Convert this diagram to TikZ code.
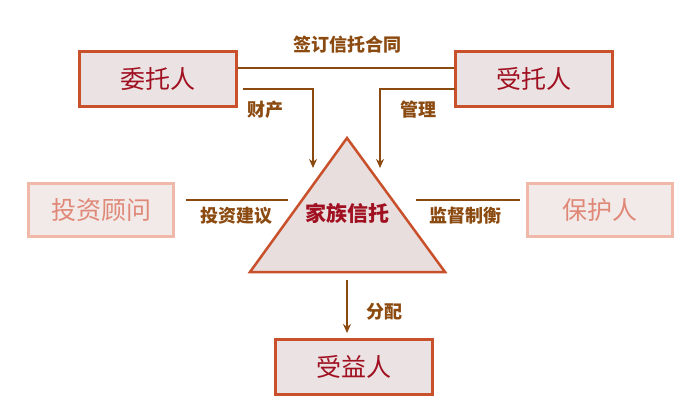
\documentclass[tikz,border=0pt]{standalone}
\usepackage{fontspec}
\usetikzlibrary{arrows.meta}
\setmainfont{Noto Sans CJK SC}
\begin{document}
\begin{tikzpicture}[x=1pt,y=-1pt,
  box/.style={draw=bord,fill=boxf,line width=2.5pt,minimum width=157pt,minimum height=55pt,text=tred,font=\fontsize{25}{28}\selectfont},
  faded/.style={draw=fbord,fill=ffill,line width=2.5pt,minimum width=145pt,minimum height=53pt,text=ftext,font=\fontsize{25}{28}\selectfont},
  lab/.style={text=brn,font=\bfseries\fontsize{18}{20}\selectfont},
  ln/.style={draw=brn,line width=1.8pt},
  arr/.style={ln,-{Stealth[length=9pt,width=8pt]}}]
\definecolor{bord}{HTML}{C8502A}\definecolor{boxf}{HTML}{EBE3E3}
\definecolor{tred}{HTML}{A01020}\definecolor{fbord}{HTML}{F0B8A8}
\definecolor{ffill}{HTML}{F2EAE8}\definecolor{ftext}{HTML}{E08878}
\definecolor{brn}{HTML}{8B4A10}\definecolor{trif}{HTML}{E8DEDE}
\useasboundingbox (0,0) rectangle (690,414);
\node[box] (wt) at (158,79) {委托人};
\node[box] (st) at (534,79) {受托人};
\node[faded] (tz) at (101,210) {投资顾问};
\node[faded] (bh) at (600,210) {保护人};
\node[box] (sy) at (354,367) {受益人};
\draw[draw=bord,fill=trif,line width=2.5pt] (347,138) -- (445,272) -- (250,272) -- cycle;
\node[text=tred,font=\bfseries\fontsize{21}{24}\selectfont] (jz) at (347,213) {家族信托};
\draw[ln] (wt.east |- 0,68) -- (st.west |- 0,68);
\node[lab] (l1) at (347,45) {签订信托合同};
\draw[arr] (243,89) -- (313,89) -- (313,168);
\node[lab] (l2) at (265,110) {财产};
\draw[arr] (455,89) -- (380,89) -- (380,168);
\node[lab] (l3) at (418,110) {管理};
\draw[ln] (186,200) -- (288,200);
\node[lab] (l4) at (236,216) {投资建议};
\draw[ln] (416,200) -- (520,200);
\node[lab] (l5) at (465,216) {监督制衡};
\draw[arr] (347,280) -- (347,333);
\node[lab] (l6) at (384,312) {分配};
\end{tikzpicture}
\end{document}
